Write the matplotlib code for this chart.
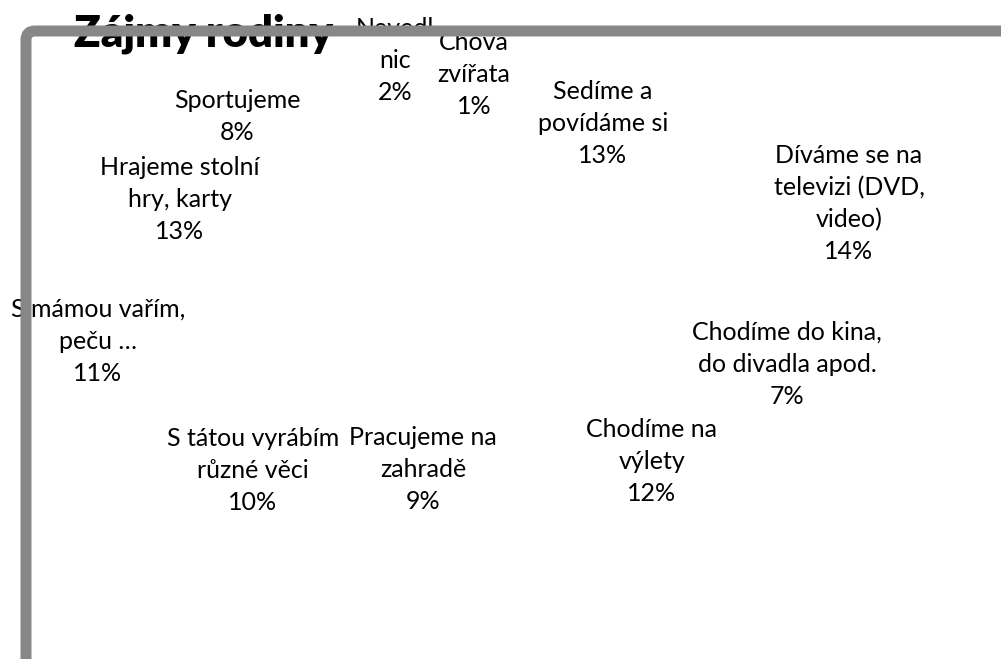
import matplotlib.pyplot as plt
from matplotlib.patches import FancyBboxPatch
from matplotlib.transforms import IdentityTransform

W, H = 1001, 659
DPI = 100

TITLE = "Zájmy rodiny"

# pie categories, clockwise from 12 o'clock
CATEGORIES = [
    "Sedíme a\npovídáme si",
    "Díváme se na\ntelevizi (DVD,\nvideo)",
    "Chodíme do kina,\ndo divadla apod.",
    "Chodíme na\nvýlety",
    "Pracujeme na\nzahradě",
    "S tátou vyrábím\nrůzné věci",
    "S mámou vařím,\npeču …",
    "Hrajeme stolní\nhry, karty",
    "Sportujeme",
    "Nevedl\nnic",
    "Chova\nzvířata",
]
SHARES = [13, 14, 7, 12, 9, 10, 11, 13, 8, 2, 1]

# where excel put the data labels (pixel x centre, baseline of first line)
LABEL_X = [603, 849, 787, 652, 423, 253, 98, 180, 237, 395, 474]
LABEL_Y = [99, 163, 340, 437, 445, 446, 317, 175, 108, 36, 50]
LINE_PX = 32

FONT = "Lato"
GREY = "#878787"

fig = plt.figure(figsize=(W / DPI, H / DPI), dpi=DPI)
fig.patch.set_facecolor("white")

# the pie itself has no fill in the original, only the labels show
ax = fig.add_axes([0.1, 0.12, 0.75, 0.72])
ax.pie(SHARES, startangle=90, counterclock=False,
       colors=["white"] * len(SHARES), wedgeprops=dict(linewidth=0))
ax.set_aspect("equal")
ax.axis("off")

for cat, share, x, y in zip(CATEGORIES, SHARES, LABEL_X, LABEL_Y):
    lines = cat.split("\n") + [f"{share}%"]
    for i, line in enumerate(lines):
        fig.text(x / W, 1 - (y + i * LINE_PX) / H, line, ha="center", va="baseline",
                 fontsize=18, family=FONT, color="black", zorder=3)

fig.text(74 / W, 1 - 47 / H, TITLE, ha="left", va="baseline",
         fontsize=31.5, fontweight="heavy", family=FONT, color="black", zorder=3)

# chart border, only top and left edges are inside the picture
frame = FancyBboxPatch((26, -200), 1200, H - 31 + 200,
                       boxstyle="round,pad=0,rounding_size=9",
                       transform=IdentityTransform(), facecolor="none",
                       edgecolor=GREY, linewidth=11 * 72 / DPI, zorder=10)
fig.patches.append(frame)

fig.savefig("out.png", dpi=DPI, facecolor="white")
